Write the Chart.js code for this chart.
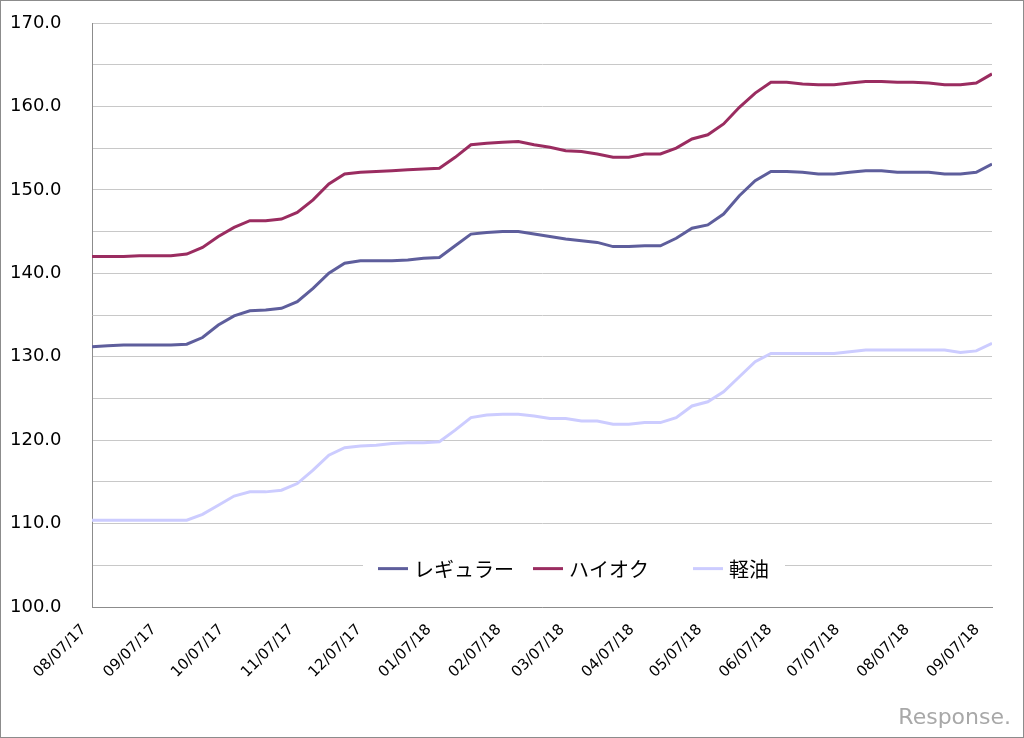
<!DOCTYPE html>
<html>
<head>
<meta charset="utf-8">
<title>ガソリン価格推移</title>
<script src="https://cdn.jsdelivr.net/npm/chart.js@4.4.1/dist/chart.umd.min.js"></script>
<style>
    html, body { margin: 0; padding: 0; background: #fff; }
    #wrap { position: relative; width: 1024px; height: 738px; box-sizing: border-box; border: 1px solid #8c8c8c; }
    #chart { display: block; }
    #brand { position: absolute; right: 12px; bottom: 8px; font: 22px "DejaVu Sans", sans-serif; color: #a8a8a8; }
</style>
</head>
<body>
<div id="wrap">
    <canvas id="chart" width="1022" height="736"></canvas>
    <div id="brand">Response.</div>
</div>
<script>
// Weekly survey dates (Mondays)
const weekDates = [
    '2017-08-07', '2017-08-14', '2017-08-21', '2017-08-28', '2017-09-04', '2017-09-11', '2017-09-18', '2017-09-25',
    '2017-10-02', '2017-10-09', '2017-10-16', '2017-10-23', '2017-10-30', '2017-11-06', '2017-11-13', '2017-11-20',
    '2017-11-27', '2017-12-04', '2017-12-11', '2017-12-18', '2017-12-25', '2018-01-01', '2018-01-08', '2018-01-15',
    '2018-01-22', '2018-01-29', '2018-02-05', '2018-02-12', '2018-02-19', '2018-02-26', '2018-03-05', '2018-03-12',
    '2018-03-19', '2018-03-26', '2018-04-02', '2018-04-09', '2018-04-16', '2018-04-23', '2018-04-30', '2018-05-07',
    '2018-05-14', '2018-05-21', '2018-05-28', '2018-06-04', '2018-06-11', '2018-06-18', '2018-06-25', '2018-07-02',
    '2018-07-09', '2018-07-16', '2018-07-23', '2018-07-30', '2018-08-06', '2018-08-13', '2018-08-20', '2018-08-27',
    '2018-09-03', '2018-09-10'
];

// レギュラー
const regular = [
    131.2, 131.3, 131.4, 131.4, 131.4, 131.4, 131.5, 132.3, 133.8, 134.9,
    135.5, 135.6, 135.8, 136.6, 138.2, 140.0, 141.2, 141.5, 141.5, 141.5,
    141.6, 141.8, 141.9, 143.3, 144.7, 144.9, 145.0, 145.0, 144.7, 144.4,
    144.1, 143.9, 143.7, 143.2, 143.2, 143.3, 143.3, 144.2, 145.4, 145.8,
    147.1, 149.3, 151.1, 152.2, 152.2, 152.1, 151.9, 151.9, 152.1, 152.3,
    152.3, 152.1, 152.1, 152.1, 151.9, 151.9, 152.1, 153.1
];

// ハイオク
const highOctane = [
    142.0, 142.0, 142.0, 142.1, 142.1, 142.1, 142.3, 143.1, 144.4, 145.5,
    146.3, 146.3, 146.5, 147.3, 148.8, 150.7, 151.9, 152.1, 152.2, 152.3,
    152.4, 152.5, 152.6, 153.9, 155.4, 155.6, 155.7, 155.8, 155.4, 155.1,
    154.7, 154.6, 154.3, 153.9, 153.9, 154.3, 154.3, 155.0, 156.1, 156.6,
    157.9, 159.9, 161.6, 162.9, 162.9, 162.7, 162.6, 162.6, 162.8, 163.0,
    163.0, 162.9, 162.9, 162.8, 162.6, 162.6, 162.8, 163.9
];

// 軽油
const diesel = [
    110.4, 110.4, 110.4, 110.4, 110.4, 110.4, 110.4, 111.1, 112.2, 113.3,
    113.8, 113.8, 114.0, 114.8, 116.4, 118.2, 119.1, 119.3, 119.4, 119.6,
    119.7, 119.7, 119.8, 121.2, 122.7, 123.0, 123.1, 123.1, 122.9, 122.6,
    122.6, 122.3, 122.3, 121.9, 121.9, 122.1, 122.1, 122.7, 124.1, 124.6,
    125.8, 127.6, 129.4, 130.4, 130.4, 130.4, 130.4, 130.4, 130.6, 130.8,
    130.8, 130.8, 130.8, 130.8, 130.8, 130.5, 130.7, 131.6
];

// Monthly axis ticks
const tickDates = [
    '2017-08-07', '2017-09-07', '2017-10-07', '2017-11-07', '2017-12-07', '2018-01-07', '2018-02-07',
    '2018-03-07', '2018-04-07', '2018-05-07', '2018-06-07', '2018-07-07', '2018-08-07', '2018-09-07'
];
const tickLabels = [
    '08/07/17', '09/07/17', '10/07/17', '11/07/17', '12/07/17', '01/07/18', '02/07/18',
    '03/07/18', '04/07/18', '05/07/18', '06/07/18', '07/07/18', '08/07/18', '09/07/18'
];

/**
 * Days since the first survey date
 */
function dayOffset(d) {
    return Math.round((Date.parse(d) - Date.parse(weekDates[0])) / 86400000);
}

function toPoints(values) {
    return weekDates.map((d, i) => ({ x: dayOffset(d), y: values[i] }));
}

/**
 * Legend drawn inside the plot area (Excel style)
 */
const insideLegend = {
    id: 'insideLegend',
    afterDatasetsDraw(chart) {
        const ctx = chart.ctx;
        const area = chart.chartArea;
        const yMid = chart.scales.y.getPixelForValue(104.6);
        const starts = [286, 441, 601];

        ctx.save();
        ctx.fillStyle = '#fff';
        ctx.fillRect(area.left + 271, yMid - 20, 422, 40);
        ctx.font = '20px "Noto Sans CJK JP", sans-serif';
        ctx.textBaseline = 'middle';
        ctx.textAlign = 'left';
        chart.data.datasets.forEach((ds, i) => {
            const x = area.left + starts[i];
            ctx.strokeStyle = ds.borderColor;
            ctx.lineWidth = 3;
            ctx.beginPath();
            ctx.moveTo(x, yMid);
            ctx.lineTo(x + 30, yMid);
            ctx.stroke();
            ctx.fillStyle = '#000';
            ctx.fillText(ds.label, x + 36, yMid + 1);
        });
        ctx.restore();
    }
};

new Chart(document.getElementById('chart').getContext('2d'), {
    type: 'line',
    data: {
        datasets: [
            { label: 'レギュラー', data: toPoints(regular), borderColor: '#5e5e9c' },
            { label: 'ハイオク', data: toPoints(highOctane), borderColor: '#9a2c60' },
            { label: '軽油', data: toPoints(diesel), borderColor: '#ccccff' }
        ]
    },
    options: {
        responsive: false,
        animation: false,
        layout: { padding: { left: 9, right: 31, top: 22, bottom: 0 } },
        elements: {
            line: { borderWidth: 3, tension: 0, fill: false },
            point: { radius: 0 }
        },
        plugins: {
            legend: { display: false },
            tooltip: { enabled: false }
        },
        scales: {
            x: {
                type: 'linear',
                min: 0,
                max: dayOffset(weekDates[weekDates.length - 1]),
                afterBuildTicks: function(scale) {
                    scale.ticks = tickDates.map(d => ({ value: dayOffset(d) }));
                },
                afterFit: function(scale) {
                    scale.height = 130;
                },
                grid: { display: false, drawTicks: false },
                border: { display: true, color: '#8c8c8c' },
                ticks: {
                    autoSkip: false,
                    minRotation: 45,
                    maxRotation: 45,
                    padding: 14,
                    labelOffset: -8,
                    color: '#000',
                    font: { family: '"DejaVu Sans", sans-serif', size: 15 },
                    callback: function(value, index) {
                        return tickLabels[index];
                    }
                }
            },
            y: {
                min: 100,
                max: 170,
                afterFit: function(scale) {
                    scale.width = 82;
                },
                grid: { color: '#c8c8c8', lineWidth: 1, drawTicks: false },
                border: { display: true, color: '#8c8c8c' },
                ticks: {
                    stepSize: 5,
                    crossAlign: 'far',
                    color: '#000',
                    font: { family: '"DejaVu Sans", sans-serif', size: 18 },
                    callback: function(value) {
                        return value % 10 === 0 ? value.toFixed(1) : '';
                    }
                }
            }
        }
    },
    plugins: [insideLegend]
});
</script>
</body>
</html>
